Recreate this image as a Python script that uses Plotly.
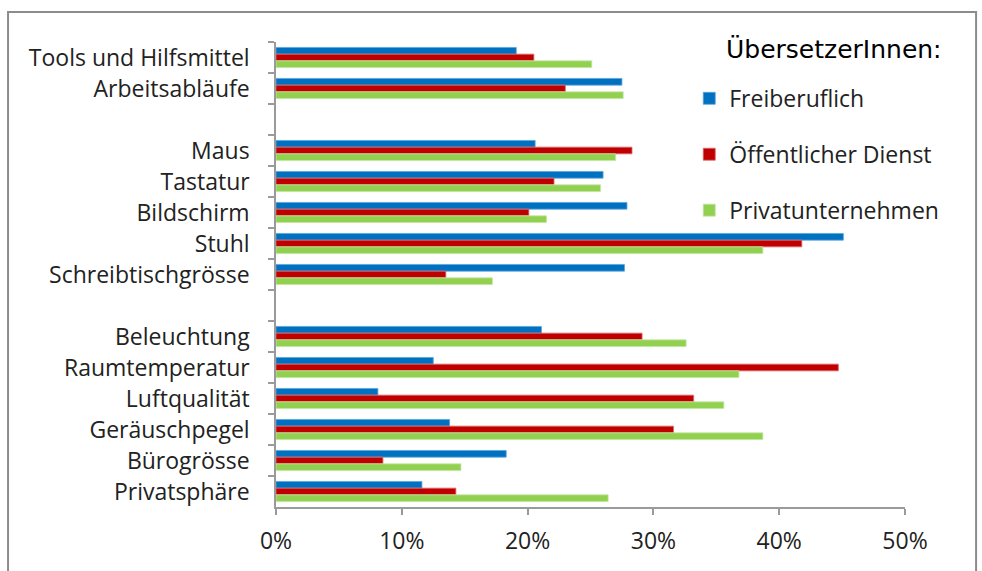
import plotly.graph_objects as go

categories = ["Tools und Hilfsmittel", "Arbeitsabläufe", " ",
              "Maus", "Tastatur", "Bildschirm", "Stuhl", "Schreibtischgrösse", "  ",
              "Beleuchtung", "Raumtemperatur", "Luftqualität", "Geräuschpegel",
              "Bürogrösse", "Privatsphäre"]

freiberuflich = [19.1, 27.5, None, 20.6, 26.0, 27.9, 45.1, 27.7, None,
                 21.1, 12.5, 8.1, 13.8, 18.3, 11.6]
oeffentlich = [20.5, 23.0, None, 28.3, 22.1, 20.1, 41.8, 13.5, None,
               29.1, 44.7, 33.2, 31.6, 8.5, 14.3]
privat = [25.1, 27.6, None, 27.0, 25.8, 21.5, 38.7, 17.2, None,
          32.6, 36.8, 35.6, 38.7, 14.7, 26.4]

series_names = ["Freiberuflich", "Öffentlicher Dienst", "Privatunternehmen"]
legend_title = "ÜbersetzerInnen:"
colors = ["#0070C0", "#C00000", "#92D050"]
edge_colors = ["#5DA3DB", "#E06A6A", "#C4E6A3"]
x_ticks = [0, 10, 20, 30, 40, 50]
x_tick_labels = ["0%", "10%", "20%", "30%", "40%", "50%"]

LABEL_FONT = "Open Sans"

fig = go.Figure()
for i, (name, vals) in enumerate(zip(series_names, [freiberuflich, oeffentlich, privat])):
    fig.add_trace(go.Bar(
        y=categories, x=vals, name=name, orientation="h",
        marker=dict(color=colors[i], line=dict(color=edge_colors[i], width=0.8)),
        legendgroup=f"g{i}",
    ))

fig.update_layout(
    width=982, height=571,
    margin=dict(l=276, r=77, t=42, b=64),
    paper_bgcolor="white", plot_bgcolor="white",
    barmode="group", bargap=0.35, bargroupgap=0,
    font=dict(family=LABEL_FONT, size=22, color="#222222"),
    legend=dict(
        x=0.657, y=0.925, xanchor="left", yanchor="top",
        font=dict(family=LABEL_FONT, size=23, color="#222222"),
        tracegroupgap=23, itemwidth=30,
        bgcolor="rgba(255,255,255,0)",
    ),
    annotations=[dict(text=legend_title, xref="paper", yref="paper",
                      x=0.713, y=0.983, xanchor="left", yanchor="middle",
                      showarrow=False,
                      font=dict(family="DejaVu Sans", size=25, color="#000000"))],
    xaxis=dict(
        range=[0, 50], tickvals=x_ticks, ticktext=x_tick_labels,
        showgrid=False, zeroline=False,
        showline=True, linecolor="#9a9a9a", linewidth=1.5,
        ticks="outside", ticklen=6, tickcolor="#9a9a9a", tickwidth=1.5,
        ticklabelstandoff=7,
        tickfont=dict(family=LABEL_FONT, size=23, color="#222222"),
        fixedrange=True,
    ),
    yaxis=dict(
        categoryorder="array", categoryarray=categories,
        autorange="reversed",
        showgrid=False, zeroline=False,
        showline=True, linecolor="#9a9a9a", linewidth=1.5,
        ticks="outside", ticklen=6, tickcolor="#9a9a9a", tickwidth=1.5,
        tickson="boundaries", ticklabelstandoff=20,
        tickfont=dict(family=LABEL_FONT, size=23, color="#222222"),
        fixedrange=True,
    ),
    shapes=[dict(type="rect", xref="paper", yref="paper",
                 x0=-0.426, x1=1.113, y0=-0.25, y1=1.0645,
                 line=dict(color="#8c8c8c", width=2), fillcolor="rgba(0,0,0,0)", layer="below")],
)

fig.write_html("out.html")
